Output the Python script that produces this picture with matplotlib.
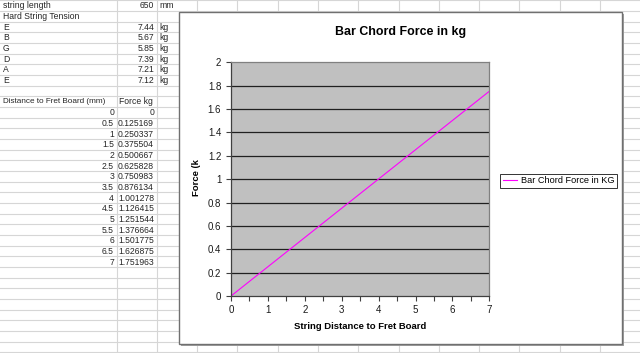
import matplotlib
matplotlib.use("Agg")
import matplotlib.pyplot as plt
from matplotlib.patches import Rectangle
import numpy as np

plt.rcParams['font.family'] = ['Liberation Sans', 'DejaVu Sans']

# ---- data ----
string_length = "650"
strings = ["E", "B", "G", "D", "A", "E"]
tensions = ["7.44", "5.67", "5.85", "7.39", "7.21", "7.12"]
distances = [0, 0.5, 1, 1.5, 2, 2.5, 3, 3.5, 4, 4.5, 5, 5.5, 6, 6.5, 7]
forces = [0, 0.125169, 0.250337, 0.375504, 0.500667, 0.625828, 0.750983,
          0.876134, 1.001278, 1.126415, 1.251544, 1.376664, 1.501775,
          1.626875, 1.751963]
dist_labels = ["0", "0.5", "1", "1.5", "2", "2.5", "3", "3.5", "4", "4.5",
               "5", "5.5", "6", "6.5", "7"]
force_labels = ["0", "0.125169", "0.250337", "0.375504", "0.500667",
                "0.625828", "0.750983", "0.876134", "1.001278", "1.126415",
                "1.251544", "1.376664", "1.501775", "1.626875", "1.751963"]
y_ticks = [0, 0.2, 0.4, 0.6, 0.8, 1, 1.2, 1.4, 1.6, 1.8, 2]
y_tick_labels = ["0", "0.2", "0.4", "0.6", "0.8", "1", "1.2", "1.4", "1.6", "1.8", "2"]
x_ticks = [0, 1, 2, 3, 4, 5, 6, 7]

W, H = 640, 353
fig = plt.figure(figsize=(W / 100, H / 100), dpi=100)

# ---- spreadsheet background ----
bg = fig.add_axes([0, 0, 1, 1], zorder=0)
bg.set_xlim(0, W)
bg.set_ylim(H, 0)
bg.axis('off')
grid_c = '#d6d6d6'
row_h = 10.67
row_top0 = 0.33
for k in range(40):
    y = row_top0 + row_h * k
    if y > H:
        break
    bg.plot([0, W], [y, y], color=grid_c, lw=0.8)
col_lines = [116.7, 156.7] + [197.0 + 40.3 * i for i in range(12)]
for x in col_lines:
    if x < W:
        bg.plot([x, x], [0, H], color=grid_c, lw=0.8)

txt_c = '#262626'
fs = 6.2

def row_y(r):
    return row_top0 + row_h * r + row_h / 2 + 0.3

bg.text(3, row_y(0), "string length", fontsize=fs, va='center', ha='left', color=txt_c)
bg.text(154, row_y(0), string_length, fontsize=fs, va='center', ha='right', color=txt_c)
bg.text(159, row_y(0), "mm", fontsize=fs, va='center', ha='left', color=txt_c)
bg.text(3, row_y(1), "Hard String Tension", fontsize=fs, va='center', ha='left', color=txt_c)
for i, (s, t) in enumerate(zip(strings, tensions)):
    bg.text(3, row_y(2 + i), s, fontsize=fs, va='center', ha='left', color=txt_c)
    bg.text(154, row_y(2 + i), t, fontsize=fs, va='center', ha='right', color=txt_c)
    bg.text(159, row_y(2 + i), "kg", fontsize=fs, va='center', ha='left', color=txt_c)
bg.text(3, row_y(9), "Distance to Fret Board (mm)", fontsize=5.9, va='center', ha='left', color=txt_c)
bg.text(119, row_y(9), "Force kg", fontsize=fs, va='center', ha='left', color=txt_c)
for i, (d, f) in enumerate(zip(dist_labels, force_labels)):
    bg.text(114, row_y(10 + i), d, fontsize=fs, va='center', ha='right', color=txt_c)
    bg.text(154, row_y(10 + i), f, fontsize=fs, va='center', ha='right', color=txt_c)

# chart area (with light shadow)
bg.add_patch(Rectangle((180.5, 13.5), 443, 332, facecolor='#a0a0a0', edgecolor='none', zorder=3))
bg.add_patch(Rectangle((179, 12), 443, 332, facecolor='white', edgecolor='#707070', lw=1.0, zorder=4))

# ---- chart ----
L, R, T, B = 231, 489.3, 62.3, 296
ax = fig.add_axes([L / W, 1 - B / H, (R - L) / W, (B - T) / H], zorder=2)
ax.set_facecolor('#c0c0c0')
ax.plot(distances, forces, color='#ff00ff', lw=0.8, label='Bar Chord Force in KG')
ax.set_xlim(0, 7)
ax.set_ylim(0, 2)
ax.set_yticks(y_ticks)
ax.set_yticklabels(y_tick_labels)
ax.set_xticks(x_ticks)
ax.set_xticks(np.arange(0.5, 7, 1.0), minor=True)
for yv in y_ticks[1:-1]:
    ax.axhline(yv, color='#202020', lw=0.9, zorder=1)
for s in ['top', 'right']:
    ax.spines[s].set_color('#808080')
    ax.spines[s].set_linewidth(0.9)
for s in ['left', 'bottom']:
    ax.spines[s].set_color('#404040')
    ax.spines[s].set_linewidth(0.9)
ax.tick_params(axis='both', which='both', direction='out', length=3.5, width=0.8,
               color='#404040', labelsize=7, labelcolor='#1a1a1a', pad=3)
ax.tick_params(axis='y', pad=3.5)

fig.text(400.7 / W, 1 - 31.7 / H, "Bar Chord Force in kg", fontsize=8.9, fontweight='bold',
         ha='center', va='center', color='#000000')
fig.text(360 / W, 1 - 326.3 / H, "String Distance to Fret Board", fontsize=6.8, fontweight='bold',
         ha='center', va='center', color='#000000')
fig.text(196.7 / W, 1 - 178 / H, "Force (k", fontsize=6.8, fontweight='bold', rotation=90,
         ha='center', va='center', color='#000000')

leg = ax.legend(loc='center left', bbox_to_anchor=((500 - L) / (R - L), (1 - (180.8 - T) / (B - T))),
                fontsize=6.6, frameon=True, fancybox=False, borderpad=0.3, handlelength=1.5,
                handletextpad=0.5, borderaxespad=0)
leg.get_frame().set_edgecolor('#000000')
leg.get_frame().set_linewidth(0.7)

fig.savefig('out.png', dpi=100)
